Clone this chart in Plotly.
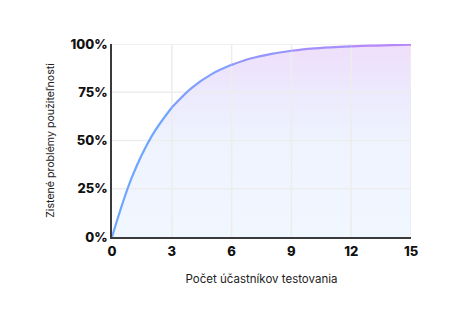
import plotly.graph_objects as go

# Data (share of usability problems found vs. number of test users)
participants = [0, 1, 2, 3, 4, 5, 6, 7, 8, 9, 10, 11, 12, 13, 14, 15]
problems_found = [0, 31, 52.4, 67.1, 77.3, 84.4, 89.2, 92.6, 94.9, 96.5, 97.6, 98.3, 98.8, 99.2, 99.4, 99.6]

x_ticks = [0, 3, 6, 9, 12, 15]
y_ticks = [0, 25, 50, 75, 100]
y_tick_labels = ["0%", "25%", "50%", "75%", "100%"]

x_title = "Počet účastníkov testovania"
y_title = "Zistené problémy použiteľnosti"

LINE_START = (102, 170, 255)
LINE_END = (192, 132, 250)


def mix(t):
    c = [round(a + (b - a) * t) for a, b in zip(LINE_START, LINE_END)]
    return f"rgb({c[0]},{c[1]},{c[2]})"


fig = go.Figure()

# gradient area under the curve
fig.add_trace(go.Scatter(
    x=participants, y=problems_found, mode="lines",
    line=dict(width=0, shape="spline"), fill="tozeroy",
    fillgradient=dict(type="vertical", start=0, stop=100,
                      colorscale=[[0, "#f1f7ff"], [0.5, "#eef3fe"], [0.75, "#ece9fd"], [1, "#efdefb"]]),
    hoverinfo="skip", showlegend=False))

# grid lines drawn over the fill
for xv in x_ticks[1:]:
    fig.add_trace(go.Scatter(x=[xv, xv], y=[y_ticks[0], y_ticks[-1]], mode="lines",
                             line=dict(color="#ededed", width=1.6),
                             hoverinfo="skip", showlegend=False))
for yv in y_ticks[1:]:
    fig.add_trace(go.Scatter(x=[x_ticks[0], x_ticks[-1]], y=[yv, yv], mode="lines",
                             line=dict(color="#ededed", width=1.6),
                             hoverinfo="skip", showlegend=False))

# curve, in chunks so its colour can shift from blue to purple
n = len(participants)
chunk = 3
for s in range(0, n - 1, chunk):
    e = min(s + chunk, n - 1)
    t = ((participants[s] + participants[e]) / 2 - participants[0]) / (participants[-1] - participants[0])
    fig.add_trace(go.Scatter(
        x=participants[s:e + 1], y=problems_found[s:e + 1], mode="lines",
        line=dict(color=mix(t), width=2.2, shape="spline"),
        hoverinfo="skip", showlegend=False))

tick_font = dict(family="Inter", size=13, color="#111111", weight=800)
x_title_font = dict(family="Inter", size=11.5, color="#222222")
y_title_font = dict(family="Inter", size=10.6, color="#222222")

fig.update_layout(
    width=473, height=317,
    margin=dict(l=112, r=62, t=44, b=80),
    paper_bgcolor="white", plot_bgcolor="white",
    xaxis=dict(range=[0, 15], tickvals=x_ticks, ticktext=[str(v) for v in x_ticks],
               showgrid=False, zeroline=False, showline=True, linecolor="#3a3a3a", linewidth=2,
               ticks="", ticklen=0, tickfont=tick_font, ticklabelstandoff=1,
               title=dict(text=x_title, font=x_title_font, standoff=17), fixedrange=True),
    yaxis=dict(range=[0, 100], tickvals=y_ticks, ticktext=y_tick_labels,
               showgrid=False, zeroline=False, showline=True, linecolor="#3a3a3a", linewidth=1.5,
               ticks="", ticklen=0, tickfont=tick_font, ticklabelstandoff=0,
               title=dict(text=y_title, font=y_title_font, standoff=14), fixedrange=True),
)

fig.write_html("out.html")
